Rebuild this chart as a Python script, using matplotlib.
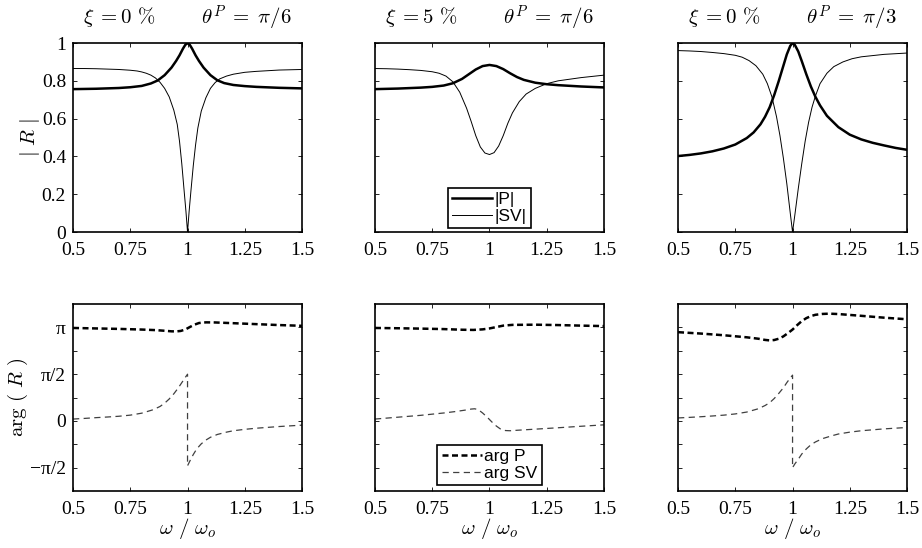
import numpy as np
import matplotlib
matplotlib.use('Agg')
import matplotlib.pyplot as plt

plt.rcParams['font.family'] = ['Liberation Serif', 'DejaVu Serif']
plt.rcParams['mathtext.fontset'] = 'cm'
plt.rcParams['xtick.direction'] = 'in'
plt.rcParams['ytick.direction'] = 'in'
plt.rcParams['xtick.top'] = True
plt.rcParams['ytick.right'] = True
plt.rcParams['xtick.major.size'] = 3
plt.rcParams['ytick.major.size'] = 3
plt.rcParams['xtick.major.width'] = 0.6
plt.rcParams['ytick.major.width'] = 0.6
plt.rcParams['xtick.major.pad'] = 7
plt.rcParams['ytick.major.pad'] = 5
plt.rcParams['axes.linewidth'] = 1.2

# case titles
titles = [r'$\xi\;{=}0\ \%\qquad\;\;\theta^P\;{=}\;\pi/6$',
          r'$\xi\;{=}5\ \%\qquad\;\;\theta^P\;{=}\;\pi/6$',
          r'$\xi\;{=}0\ \%\qquad\;\;\theta^P\;{=}\;\pi/3$']

# |P| and |SV| against omega/omega_o
xP1 = [0.5, 0.6, 0.7, 0.75, 0.8, 0.84, 0.87, 0.9, 0.93, 0.95, 0.965, 0.98, 0.99, 1.0,
       1.01, 1.02, 1.035, 1.05, 1.07, 1.1, 1.13, 1.16, 1.2, 1.25, 1.3, 1.4, 1.5]
P1 = [0.756, 0.758, 0.762, 0.766, 0.773, 0.786, 0.802, 0.83, 0.87, 0.905, 0.935, 0.97, 0.99, 1.0,
      0.99, 0.97, 0.935, 0.905, 0.87, 0.83, 0.803, 0.788, 0.778, 0.772, 0.768, 0.763, 0.76]
xS1 = [0.5, 0.55, 0.6, 0.65, 0.7, 0.75, 0.78, 0.8, 0.82, 0.84, 0.86, 0.88, 0.9, 0.92, 0.94,
       0.955, 0.965, 0.975, 0.985, 0.993, 1.0, 1.007, 1.015, 1.025, 1.035, 1.045, 1.06, 1.08,
       1.1, 1.12, 1.14, 1.17, 1.2, 1.25, 1.3, 1.4, 1.5]
S1 = [0.865, 0.865, 0.864, 0.862, 0.86, 0.856, 0.852, 0.847, 0.84, 0.83, 0.815, 0.792, 0.76,
      0.715, 0.645, 0.57, 0.48, 0.36, 0.22, 0.11, 0.0, 0.11, 0.22, 0.35, 0.46, 0.55, 0.64, 0.71,
      0.76, 0.79, 0.81, 0.825, 0.835, 0.845, 0.85, 0.857, 0.86]

xP2 = [0.5, 0.6, 0.7, 0.75, 0.8, 0.84, 0.88, 0.91, 0.94, 0.97, 1.0, 1.03, 1.06, 1.09, 1.12,
       1.15, 1.2, 1.25, 1.3, 1.4, 1.5]
P2 = [0.756, 0.759, 0.764, 0.768, 0.775, 0.787, 0.81, 0.835, 0.86, 0.878, 0.884, 0.878, 0.862,
      0.84, 0.82, 0.805, 0.79, 0.782, 0.777, 0.77, 0.765]
xS2 = [0.5, 0.55, 0.6, 0.65, 0.7, 0.75, 0.78, 0.81, 0.84, 0.87, 0.9, 0.92, 0.94, 0.96, 0.98,
       1.0, 1.02, 1.04, 1.06, 1.08, 1.1, 1.13, 1.16, 1.2, 1.25, 1.3, 1.4, 1.5]
S2 = [0.865, 0.864, 0.862, 0.859, 0.855, 0.848, 0.84, 0.825, 0.795, 0.74, 0.655, 0.585, 0.51,
      0.45, 0.418, 0.41, 0.42, 0.455, 0.51, 0.575, 0.63, 0.69, 0.73, 0.76, 0.785, 0.8, 0.817, 0.83]

xP3 = [0.5, 0.55, 0.6, 0.65, 0.7, 0.75, 0.8, 0.83, 0.86, 0.88, 0.9, 0.92, 0.94, 0.96, 0.975,
       0.99, 1.0, 1.01, 1.025, 1.04, 1.06, 1.08, 1.1, 1.12, 1.15, 1.2, 1.25, 1.3, 1.35, 1.4,
       1.45, 1.5]
P3 = [0.402, 0.408, 0.416, 0.427, 0.442, 0.463, 0.497, 0.527, 0.57, 0.61, 0.66, 0.725, 0.8,
      0.88, 0.94, 0.985, 1.0, 0.99, 0.955, 0.905, 0.835, 0.77, 0.715, 0.67, 0.615, 0.555,
      0.515, 0.49, 0.472, 0.458, 0.445, 0.435]
xS3 = [0.5, 0.55, 0.6, 0.65, 0.7, 0.75, 0.78, 0.81, 0.84, 0.87, 0.89, 0.91, 0.93, 0.945,
       0.96, 0.975, 0.99, 1.0, 1.01, 1.025, 1.04, 1.055, 1.07, 1.085, 1.1, 1.12, 1.15, 1.18,
       1.22, 1.26, 1.3, 1.4, 1.5]
S3 = [0.96, 0.958, 0.955, 0.95, 0.944, 0.935, 0.925, 0.907, 0.88, 0.835, 0.785, 0.715, 0.61,
      0.51, 0.39, 0.255, 0.1, 0.0, 0.09, 0.23, 0.36, 0.48, 0.58, 0.66, 0.72, 0.785, 0.84, 0.875,
      0.9, 0.917, 0.927, 0.94, 0.947]

# arg P and arg SV, in units of pi
xaP1 = [0.5, 0.6, 0.7, 0.8, 0.86, 0.9, 0.93, 0.95, 0.97, 0.99, 1.01, 1.03, 1.05, 1.08, 1.12,
        1.2, 1.3, 1.4, 1.5]
aP1 = [0.995, 0.99, 0.985, 0.978, 0.972, 0.965, 0.959, 0.958, 0.963, 0.978, 1.005, 1.03,
       1.048, 1.055, 1.054, 1.046, 1.036, 1.026, 1.018]
xaS1 = [0.5, 0.55, 0.6, 0.65, 0.7, 0.75, 0.8, 0.85, 0.88, 0.9, 0.92, 0.94, 0.96, 0.975, 0.99,
        1.0, 1.0, 1.01, 1.025, 1.04, 1.06, 1.08, 1.1, 1.13, 1.17, 1.2, 1.25, 1.3, 1.4, 1.5]
aS1 = [0.02, 0.027, 0.035, 0.042, 0.05, 0.062, 0.083, 0.12, 0.155, 0.19, 0.235, 0.29, 0.355,
       0.41, 0.465, 0.5, -0.48, -0.43, -0.36, -0.3, -0.245, -0.205, -0.175, -0.145, -0.12,
       -0.105, -0.09, -0.078, -0.06, -0.045]

xaP2 = [0.5, 0.6, 0.7, 0.8, 0.88, 0.93, 0.97, 1.0, 1.03, 1.06, 1.1, 1.2, 1.3, 1.4, 1.5]
aP2 = [0.995, 0.992, 0.988, 0.983, 0.976, 0.974, 0.98, 0.99, 1.005, 1.02, 1.028, 1.03, 1.026,
       1.02, 1.015]
xaS2 = [0.5, 0.6, 0.7, 0.8, 0.85, 0.9, 0.92, 0.935, 0.95, 0.97, 0.99, 1.01, 1.03, 1.05, 1.07,
        1.09, 1.12, 1.2, 1.3, 1.4, 1.5]
aS2 = [0.02, 0.04, 0.06, 0.085, 0.1, 0.118, 0.127, 0.13, 0.122, 0.085, 0.04, -0.01, -0.055,
       -0.09, -0.103, -0.105, -0.1, -0.088, -0.073, -0.057, -0.042]

xaP3 = [0.5, 0.6, 0.7, 0.8, 0.85, 0.88, 0.9, 0.92, 0.94, 0.96, 0.98, 1.0, 1.02, 1.04, 1.06,
        1.08, 1.1, 1.13, 1.16, 1.2, 1.3, 1.4, 1.5]
aP3 = [0.95, 0.935, 0.917, 0.895, 0.88, 0.867, 0.862, 0.866, 0.88, 0.905, 0.94, 0.978, 1.025,
       1.068, 1.1, 1.122, 1.136, 1.145, 1.148, 1.144, 1.125, 1.105, 1.088]
xaS3 = [0.5, 0.55, 0.6, 0.65, 0.7, 0.75, 0.8, 0.85, 0.88, 0.9, 0.92, 0.94, 0.96, 0.975, 0.99,
        1.0, 1.0, 1.01, 1.025, 1.04, 1.06, 1.08, 1.1, 1.13, 1.17, 1.2, 1.25, 1.3, 1.4, 1.5]
aS3 = [0.032, 0.038, 0.045, 0.053, 0.062, 0.075, 0.095, 0.13, 0.165, 0.195, 0.24, 0.295,
       0.355, 0.41, 0.46, 0.49, -0.5, -0.46, -0.41, -0.355, -0.3, -0.255, -0.225, -0.19,
       -0.16, -0.14, -0.12, -0.105, -0.085, -0.07]

amp = [(xP1, P1, xS1, S1), (xP2, P2, xS2, S2), (xP3, P3, xS3, S3)]
phase = [(xaP1, aP1, xaS1, aS1), (xaP2, aP2, xaS2, aS2), (xaP3, aP3, xaS3, aS3)]

xticks = [0.5, 0.75, 1, 1.25, 1.5]
xticklabels = ['0.5', '0.75', '1', '1.25', '1.5']
amp_ticks = [0, 0.2, 0.4, 0.6, 0.8, 1]
amp_labels = ['0', '0.2', '0.4', '0.6', '0.8', '1']
ph_ticks = [-0.5, -0.25, 0, 0.25, 0.5, 0.75, 1]
ph_labels = ['\u2212\u03c0/2', '', '0', '', '\u03c0/2', '', '\u03c0']


def boxed_legend(ax, y0):
    leg = ax.legend(loc='lower center', bbox_to_anchor=(0.5, y0),
                    prop={'family': 'Liberation Sans', 'size': 12.5},
                    frameon=True, fancybox=False, handlelength=2.3,
                    handletextpad=0.15, borderpad=0.25, labelspacing=0.1,
                    borderaxespad=0, framealpha=1)
    leg.get_frame().set_edgecolor('k')
    leg.get_frame().set_linewidth(1.2)


fig = plt.figure(figsize=(9.22, 5.48), dpi=100)
lefts = [0.0792, 0.4067, 0.7354]
w = 0.2484

for i in range(3):
    # amplitude row
    ax = fig.add_axes([lefts[i], 0.5766, w, 0.3449])
    xp, p, xs, s = amp[i]
    ax.plot(xp, p, color='k', lw=1.8, label='|P|')
    ax.plot(xs, s, color='k', lw=0.7, label='|SV|')
    ax.set_xlim(0.5, 1.5)
    ax.set_ylim(0, 1.0)
    ax.set_xticks(xticks)
    ax.set_xticklabels(xticklabels, fontsize=14)
    ax.set_yticks(amp_ticks)
    if i == 0:
        ax.set_yticklabels(amp_labels, fontsize=14)
        ax.set_ylabel(r'$|\ R\ |$', fontsize=15, labelpad=0)
    else:
        ax.set_yticklabels([])
    ax.set_title(titles[i], fontsize=15, pad=13)
    if i == 1:
        boxed_legend(ax, 0.02)

    # phase row
    ax = fig.add_axes([lefts[i], 0.104, w, 0.341])
    xp, p, xs, s = phase[i]
    ax.plot(xp, np.array(p) * np.pi, color='k', lw=1.8, dashes=(2.4, 1.4), label='arg P')
    ax.plot(xs, np.array(s) * np.pi, color='0.25', lw=0.9, dashes=(5, 3.5), label='arg SV')
    ax.set_xlim(0.5, 1.5)
    ax.set_ylim(-0.75 * np.pi, 1.25 * np.pi)
    ax.set_xticks(xticks)
    ax.set_xticklabels(xticklabels, fontsize=14)
    ax.set_yticks(np.array(ph_ticks) * np.pi)
    if i == 0:
        ax.set_yticklabels(ph_labels, fontsize=14)
        ax.set_ylabel(r'$\mathrm{arg}\ (\ R\ )$', fontsize=15, labelpad=0)
    else:
        ax.set_yticklabels([])
    ax.set_xlabel(r'$\omega\ /\ \omega_o$', fontsize=15, labelpad=-1)
    if i == 1:
        boxed_legend(ax, 0.03)

fig.savefig('out.png', dpi=100)
